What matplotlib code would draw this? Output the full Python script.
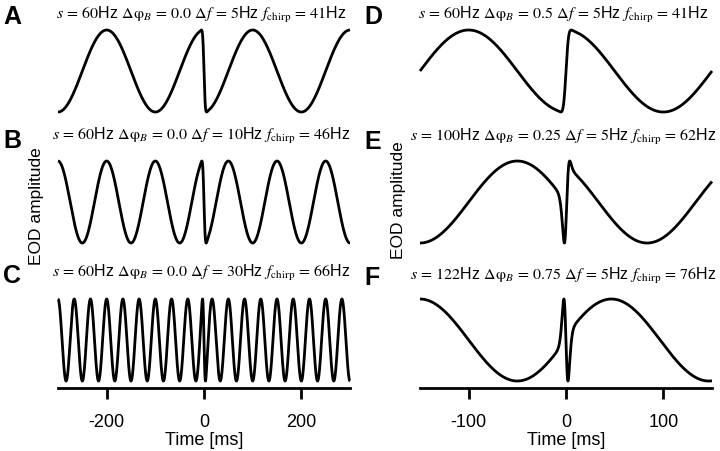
import math
import numpy as np
import matplotlib
matplotlib.use("Agg")
import matplotlib.pyplot as plt

# panel parameters, as printed in the panel titles
labels = ["A", "B", "C", "D", "E", "F"]
chirp_size = [60, 60, 60, 60, 100, 122]        # s [Hz]
beat_phase = ["0.0", "0.0", "0.0", "0.5", "0.25", "0.75"]   # dphi_B [cycles]
beat_freq = [5, 10, 30, 5, 5, 5]               # delta f [Hz]
chirp_freq = [41, 46, 66, 41, 62, 76]          # f_chirp [Hz]
time_range = [300, 300, 300, 150, 150, 150]    # +- ms shown
xticks_left = [-200, 0, 200]
xticks_right = [-100, 0, 100]

# gaussian chirp, width chosen so that s=60Hz shifts the beat by half a cycle
chirp_sigma = 1.0 / 120.0 / math.sqrt(2 * math.pi)

plt.rcParams['font.family'] = ['Liberation Sans', 'DejaVu Sans']
plt.rcParams['mathtext.fontset'] = 'stix'
plt.rcParams['axes.unicode_minus'] = False

W, H = 720, 452
fig = plt.figure(figsize=(W / 100, H / 100), dpi=100)

def fx(px):
    return px / W

def fy(px):
    return 1 - px / H

col_left = [58, 420]
col_width = 292
row_top = [31, 162, 300]
ax_height = 89
title_y = [[15, 136, 273], [15, 137, 276]]
letter_y = [[17, 141, 276], [17, 142, 278]]
letter_x = [3, 364]
ylabel_x = [37, 399]

erf_v = np.frompyfunc(math.erf, 1, 1)

for i in range(6):
    col = i // 3
    row = i % 3
    ax = fig.add_axes([fx(col_left[col]), fy(row_top[row] + ax_height),
                       fx(col_width), ax_height / H])
    T = time_range[i]
    t = np.linspace(-T, T, 8001) / 1000.0
    # accumulated phase of the chirp (integral of a gaussian frequency excursion)
    chirp_phase = chirp_size[i] * chirp_sigma * math.sqrt(2 * math.pi) * \
        0.5 * (1 + erf_v(t / (chirp_sigma * math.sqrt(2))).astype(float))
    env = np.cos(2 * np.pi * (beat_freq[i] * t + float(beat_phase[i]) + chirp_phase))
    ax.plot(t * 1000, env, color='k', lw=2.0, clip_on=False, solid_capstyle='butt')
    ax.set_xlim(-T, T)
    ax.set_ylim(-1.17, 1.0)
    ax.set_yticks([])
    for sp in ['top', 'right', 'left']:
        ax.spines[sp].set_visible(False)
    if row < 2:
        ax.spines['bottom'].set_visible(False)
        ax.set_xticks([])
    else:
        ax.spines['bottom'].set_linewidth(2.0)
        ax.set_xticks(xticks_left if col == 0 else xticks_right)
        ax.tick_params(axis='x', direction='out', length=8, width=2.0,
                       labelsize=13, pad=10)
        ax.set_xlabel('Time [ms]', fontsize=13, labelpad=1)
    title = (r"$s\,=\,%d$Hz $\Delta\mathrm{\varphi}_B\,=\,%s$ $\Delta f\,=\,%d$Hz "
             r"$f_\mathrm{chirp}\,=\,%d$Hz" % (chirp_size[i], beat_phase[i],
                                               beat_freq[i], chirp_freq[i]))
    fig.text(fx(col_left[col] + col_width / 2 - 3), fy(title_y[col][row]), title,
             ha='center', va='center', fontsize=11.5)
    fig.text(fx(letter_x[col]), fy(letter_y[col][row]), labels[i],
             ha='left', va='center', fontsize=18, fontweight='bold')

fig.text(fx(ylabel_x[0]), fy(206), 'EOD amplitude', rotation=90,
         ha='center', va='center', fontsize=12.5)
fig.text(fx(ylabel_x[1]), fy(200), 'EOD amplitude', rotation=90,
         ha='center', va='center', fontsize=12.5)

fig.savefig('out.png', dpi=100)
